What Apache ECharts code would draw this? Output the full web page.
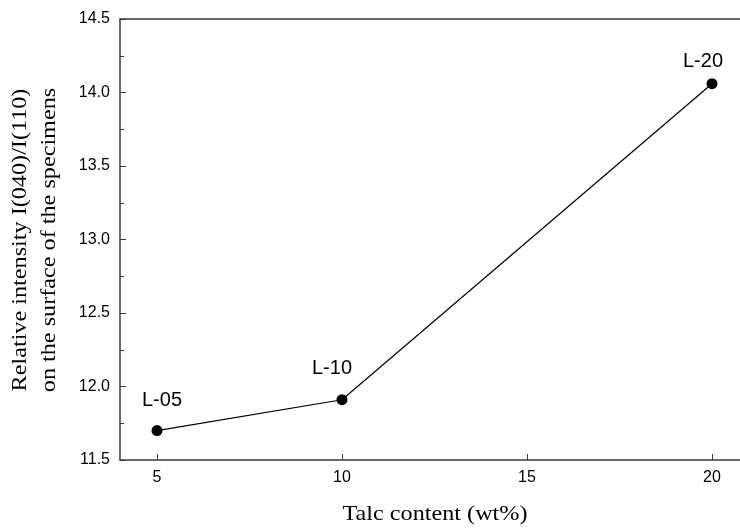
<!DOCTYPE html>
<html><head><meta charset="utf-8">
<script src="https://cdn.jsdelivr.net/npm/echarts@6/dist/echarts.min.js"></script>
<style>html,body{margin:0;padding:0;background:#fff}#c{width:740px;height:528px}</style>
</head><body><div id="c"></div>
<script>
const talcContent = [5, 10, 20];
const relIntensity = [11.70, 11.91, 14.06];
const sampleNames = ['L-05', 'L-10', 'L-20'];
const xTicks = [5, 10, 15, 20];
const yTitle = 'Relative intensity I(040)/I(110)\non the surface of the specimens';
const xTitle = 'Talc content (wt%)';

const labelOffsets = [[5, -10], [-10, -11], [-9, -2]];
const chart = echarts.init(document.getElementById('c'));
const axisColor = '#3a3a3a';
chart.setOption({
  animation: false,
  grid: { left: 120, right: -9, top: 19, bottom: 68, outerBoundsMode: 'none', containLabel: false },
  xAxis: [{
    type: 'value', min: 4, max: 21,
    axisLine: { show: true, onZero: false, lineStyle: { color: axisColor, width: 1.5 } },
    axisTick: { show: true, inside: true, length: 6, customValues: xTicks, lineStyle: { color: axisColor } },
    axisLabel: { customValues: xTicks, color: '#000', fontFamily: 'Liberation Sans', fontSize: 16, margin: 10 },
    splitLine: { show: false }
  }, {
    type: 'value', min: 4, max: 21, position: 'top',
    axisLine: { show: true, onZero: false, lineStyle: { color: axisColor, width: 1.5 } },
    axisTick: { show: false }, axisLabel: { show: false }, splitLine: { show: false }
  }],
  yAxis: {
    type: 'value', min: 11.5, max: 14.5, interval: 0.5,
    axisLine: { show: true, onZero: false, lineStyle: { color: axisColor, width: 1.5 } },
    axisTick: { show: true, inside: true, length: 6, lineStyle: { color: axisColor } },
    minorTick: { show: true, splitNumber: 2, length: 4, lineStyle: { color: axisColor } },
    axisLabel: { formatter: v => v.toFixed(1), color: '#000', fontFamily: 'Liberation Sans', fontSize: 16, margin: 10 },
    splitLine: { show: false }
  },
  graphic: [{
    type: 'text', x: 35, y: 240, rotation: Math.PI / 2, scaleX: 1.1,
    style: { text: yTitle, font: '22px "Liberation Serif"', fill: '#000',
             textAlign: 'center', textVerticalAlign: 'middle', lineHeight: 29 }
  }, {
    type: 'text', x: 435, y: 514, scaleX: 1.1,
    style: { text: xTitle, font: '22px "Liberation Serif"', fill: '#000',
             textAlign: 'center', textVerticalAlign: 'middle' }
  }],
  series: [{
    type: 'line',
    data: talcContent.map((x, i) => ({
      value: [x, relIntensity[i]],
      label: { show: true, formatter: sampleNames[i], position: 'top', offset: labelOffsets[i],
               color: '#000', fontFamily: 'Liberation Sans', fontSize: 20 }
    })),
    symbol: 'circle', symbolSize: 11,
    itemStyle: { color: '#000' },
    lineStyle: { color: '#000', width: 1.2 }
  }]
});
</script></body></html>
